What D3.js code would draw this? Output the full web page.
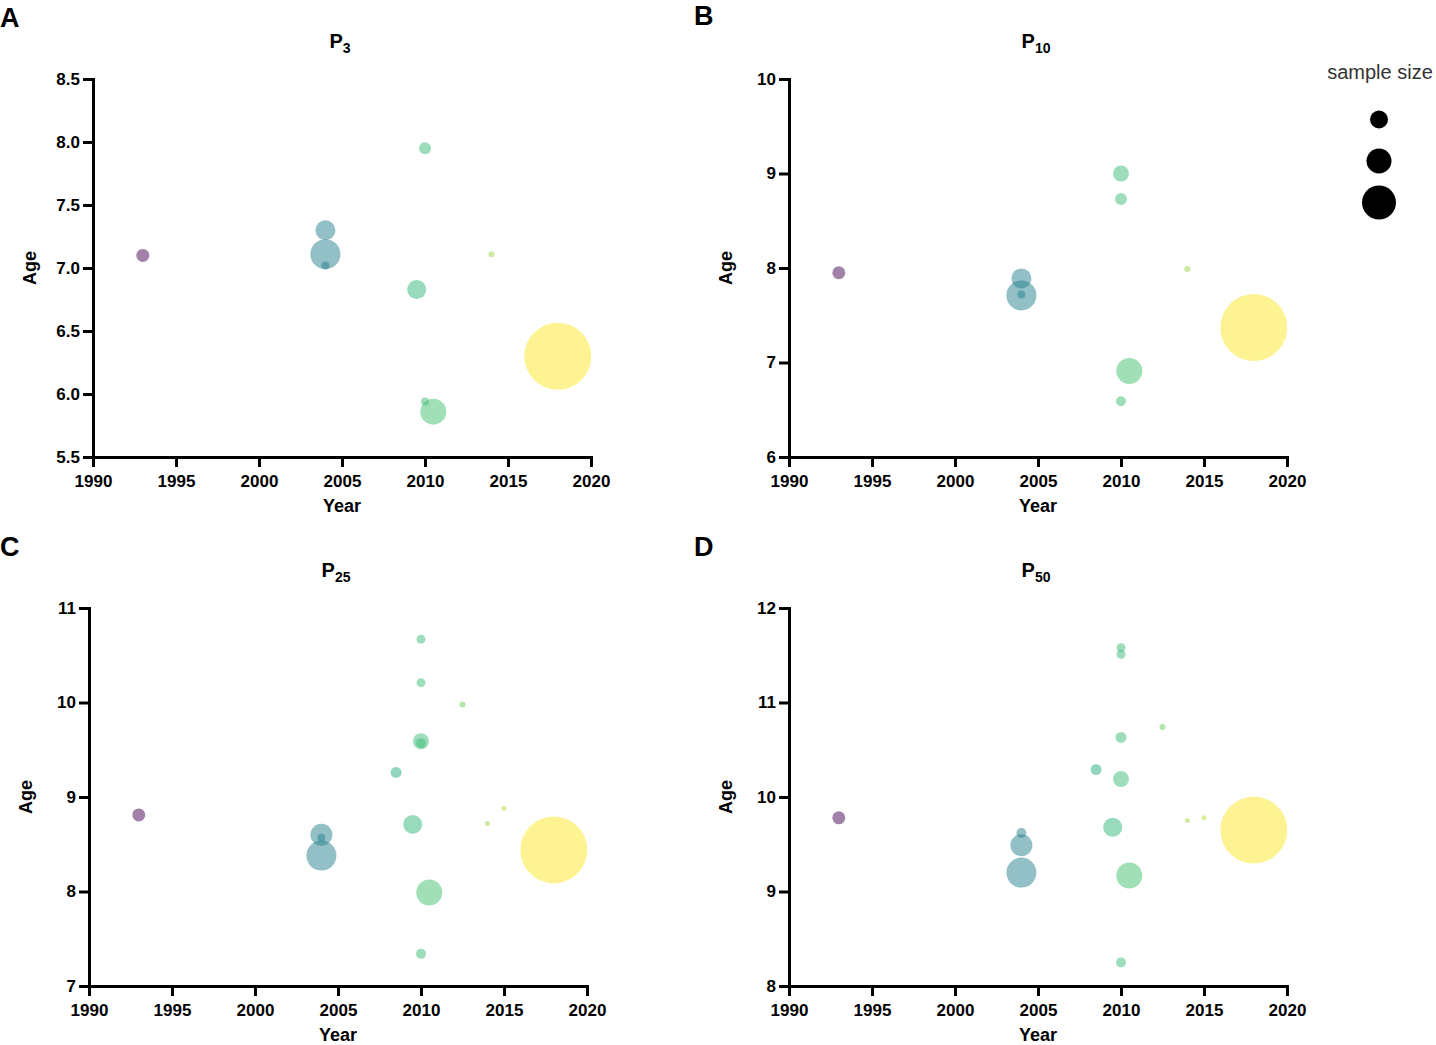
<!DOCTYPE html>
<html>
<head>
<meta charset="utf-8">
<script src="https://cdn.jsdelivr.net/npm/d3@7"></script>
<style>
  html, body { margin: 0; padding: 0; background: #fff; }
  svg { display: block; font-family: "Liberation Sans", Arial, Helvetica, sans-serif; }
</style>
</head>
<body>
<svg id="chart" width="1436" height="1045"></svg>
<script>
// ---------- DATA ----------
const xTicks = [1990, 1995, 2000, 2005, 2010, 2015, 2020];

// Panel A: P3
const p3Year = [1993, 2004, 2004, 2004, 2010, 2009.5, 2014, 2010, 2010.5, 2018];
const p3Age  = [7.10, 7.30, 7.11, 7.02, 7.95, 6.83, 7.11, 5.94, 5.86, 6.30];
const p3N    = [365, 865, 1950, 138, 311, 781, 78, 138, 1462, 9700];
const p3Ticks = [5.5, 6.0, 6.5, 7.0, 7.5, 8.0, 8.5];

// Panel B: P10
const p10Year = [1993, 2004, 2004, 2004, 2010, 2010, 2014, 2010.5, 2010, 2018];
const p10Age  = [7.95, 7.89, 7.71, 7.72, 9.00, 8.73, 7.99, 6.91, 6.59, 7.37];
const p10N    = [365, 865, 1950, 138, 554, 311, 78, 1462, 216, 9700];
const p10Ticks = [6, 7, 8, 9, 10];

// Panel C: P25
const p25Year = [1993, 2004, 2004, 2004, 2010, 2010, 2012.5, 2010, 2010, 2008.5, 2009.5, 2014, 2015, 2010.5, 2010, 2018];
const p25Age  = [8.81, 8.60, 8.57, 8.38, 10.67, 10.21, 9.98, 9.59, 9.57, 9.26, 8.71, 8.72, 8.88, 7.99, 7.34, 8.44];
const p25N    = [365, 1047, 138, 1950, 175, 175, 78, 554, 216, 262, 781, 54, 54, 1462, 216, 9700];
const p25Ticks = [7, 8, 9, 10, 11];

// Panel D: P50
const p50Year = [1993, 2004, 2004, 2004, 2010, 2010, 2012.5, 2010, 2008.5, 2010, 2009.5, 2014, 2015, 2010.5, 2010, 2018];
const p50Age  = [9.78, 9.62, 9.49, 9.20, 11.58, 11.51, 10.74, 10.63, 10.29, 10.19, 9.68, 9.75, 9.78, 9.17, 8.25, 9.65];
const p50N    = [365, 216, 1047, 1950, 175, 175, 78, 262, 262, 554, 781, 54, 54, 1462, 216, 9700];
const p50Ticks = [8, 9, 10, 11, 12];

const legendN = [700, 1350, 2500];
const legendTitle = "sample size";

// ---------- LAYOUT ----------
const svg = d3.select("#chart");
const rScale = d3.scaleSqrt().domain([0, 10000]).range([0, 34]);
const color = d3.scaleSequential(d3.interpolateViridis).domain([1993, 2018]);

const panels = [
  { letter: "A", sub: "3",  years: p3Year,  ages: p3Age,  ns: p3N,  ticks: p3Ticks,  fmt: d3.format(".1f"),
    left: 93,  right: 591,  top: 79,  bottom: 457, lx: 0,   ly: 27 },
  { letter: "B", sub: "10", years: p10Year, ages: p10Age, ns: p10N, ticks: p10Ticks, fmt: d3.format("d"),
    left: 789, right: 1287, top: 79,  bottom: 457, lx: 694, ly: 25 },
  { letter: "C", sub: "25", years: p25Year, ages: p25Age, ns: p25N, ticks: p25Ticks, fmt: d3.format("d"),
    left: 89,  right: 587,  top: 608, bottom: 986, lx: 0,   ly: 556 },
  { letter: "D", sub: "50", years: p50Year, ages: p50Age, ns: p50N, ticks: p50Ticks, fmt: d3.format("d"),
    left: 789, right: 1287, top: 608, bottom: 986, lx: 694, ly: 556 }
];

panels.forEach((p, pi) => {
  const x = d3.scaleLinear().domain([1990, 2020]).range([p.left, p.right]);
  const y = d3.scaleLinear().domain(d3.extent(p.ticks)).range([p.bottom, p.top]);
  const g = svg.append("g");

  const clipId = "clip" + pi;
  svg.append("clipPath").attr("id", clipId)
    .append("rect").attr("x", p.left).attr("y", p.top - 40)
    .attr("width", p.right - p.left).attr("height", p.bottom - p.top + 40);

  const pts = p.years.map((yr, i) => ({ yr, age: p.ages[i], n: p.ns[i] }))
    .sort((a, b) => b.n - a.n);

  g.append("g").attr("clip-path", `url(#${clipId})`)
    .selectAll("circle").data(pts).join("circle")
    .attr("cx", d => x(d.yr))
    .attr("cy", d => y(d.age))
    .attr("r", d => rScale(d.n))
    .attr("fill", d => color(d.yr))
    .attr("fill-opacity", 0.5);

  const xAxis = d3.axisBottom(x).tickValues(xTicks).tickFormat(d3.format("d"))
    .tickSize(10).tickSizeOuter(0).tickPadding(8);
  const yAxis = d3.axisLeft(y).tickValues(p.ticks).tickFormat(p.fmt)
    .tickSize(10).tickSizeOuter(0).tickPadding(3);

  const gx = g.append("g").attr("transform", `translate(0,${p.bottom})`).call(xAxis);
  const gy = g.append("g").attr("transform", `translate(${p.left},0)`).call(yAxis);
  [gx, gy].forEach(a => {
    a.select(".domain").attr("stroke", "#000").attr("stroke-width", 3).attr("stroke-linecap", "square");
    a.selectAll(".tick line").attr("stroke", "#000").attr("stroke-width", 3);
    a.selectAll(".tick text").attr("fill", "#000").attr("font-size", 17).attr("font-weight", "bold")
      .attr("font-family", "'Liberation Sans', Arial, sans-serif");
  });

  g.append("text").attr("x", (p.left + p.right) / 2).attr("y", p.bottom + 55)
    .attr("text-anchor", "middle").attr("font-size", 18).attr("font-weight", "bold").text("Year");
  g.append("text")
    .attr("transform", `translate(${p.left - 57},${(p.top + p.bottom) / 2}) rotate(-90)`)
    .attr("text-anchor", "middle").attr("font-size", 18).attr("font-weight", "bold").text("Age");

  const t = g.append("text").attr("x", (p.left + p.right) / 2 - 2).attr("y", p.top - 31)
    .attr("text-anchor", "middle").attr("font-size", 20).attr("font-weight", "bold");
  t.append("tspan").text("P");
  t.append("tspan").attr("font-size", 14).attr("dy", 5).text(p.sub);

  g.append("text").attr("x", p.lx).attr("y", p.ly).attr("font-size", 27)
    .attr("font-weight", "bold").text(p.letter);
});

// legend
const lg = svg.append("g");
lg.append("text").attr("x", 1380).attr("y", 79).attr("text-anchor", "middle")
  .attr("font-size", 20).attr("fill", "#333").text(legendTitle);
const legendY = d3.scalePoint().domain(legendN).range([119.5, 202.5]);
lg.selectAll("circle").data(legendN).join("circle")
  .attr("cx", 1379).attr("cy", d => legendY(d)).attr("r", d => rScale(d)).attr("fill", "#000");
</script>
</body>
</html>
